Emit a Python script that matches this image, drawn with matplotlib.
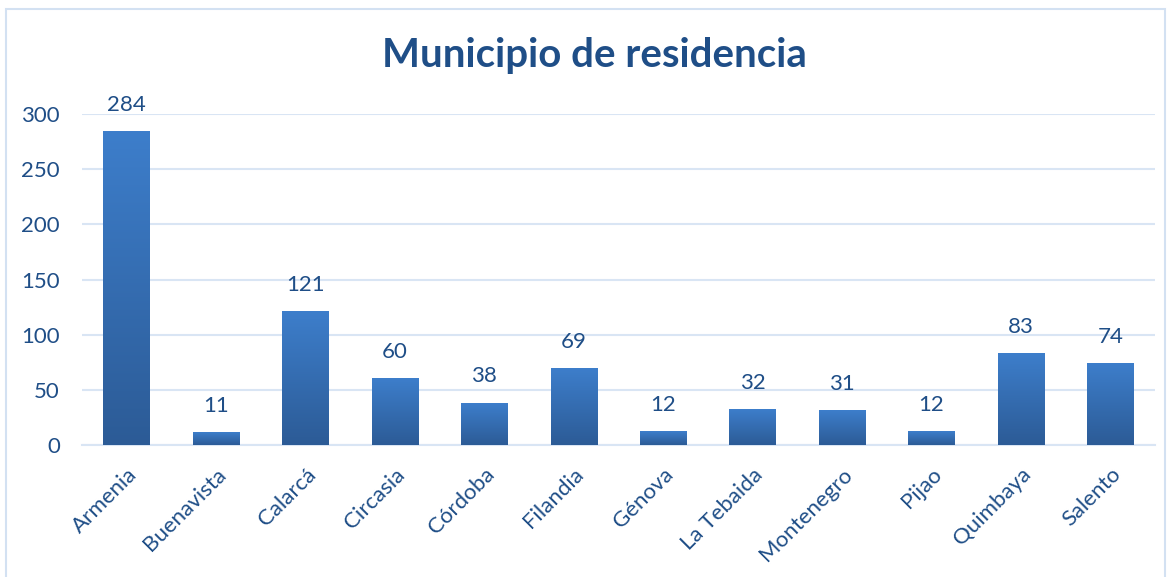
import numpy as np
import matplotlib
matplotlib.use("Agg")
import matplotlib.pyplot as plt
from matplotlib.colors import LinearSegmentedColormap
from matplotlib.patches import Rectangle

# data
municipios = ["Armenia", "Buenavista", "Calarcá", "Circasia", "Córdoba", "Filandia",
              "Génova", "La Tebaida", "Montenegro", "Pijao", "Quimbaya", "Salento"]
personas = [284, 11, 121, 60, 38, 69, 12, 32, 31, 12, 83, 74]
yticks = [0, 50, 100, 150, 200, 250, 300]

text_color = "#1F4E87"
grid_color = "#D9E5F4"
plt.rcParams['font.family'] = ['Lato', 'DejaVu Sans']

fig = plt.figure(figsize=(11.72, 5.77), dpi=100)
ax = fig.add_axes([82 / 1172, 1 - 445 / 577, 1073 / 1172, 331 / 577])

# gradient for each bar (light at top, dark at bottom)
cmap = LinearSegmentedColormap.from_list("barra", ["#2C5B96", "#3D7ECB"])
grad = np.linspace(0, 1, 256).reshape(-1, 1)
width = 0.52
x = np.arange(len(municipios))
for xi, v in zip(x, personas):
    ax.imshow(grad, cmap=cmap, origin="lower", aspect="auto",
              extent=[xi - width / 2, xi + width / 2, 0, v], zorder=3)
    ax.annotate(str(v), (xi, v), xytext=(0, 12), textcoords="offset points",
                ha="center", va="bottom", fontsize=16, color=text_color, zorder=4)

ax.set_xlim(-0.5, len(municipios) - 0.5)
ax.set_ylim(0, 300)
ax.set_yticks(yticks)
ax.set_yticklabels([str(t) for t in yticks], fontsize=16, color=text_color)
ax.set_xticks(x)
ax.set_xticklabels(municipios, rotation=45, ha="right", rotation_mode="anchor",
                   fontsize=16, color=text_color)
ax.tick_params(axis="both", length=0)
ax.tick_params(axis="y", pad=16)
ax.tick_params(axis="x", pad=14)
ax.grid(axis="y", color=grid_color, linewidth=1.5, zorder=0)
ax.set_axisbelow(True)
for s in ["top", "right", "left"]:
    ax.spines[s].set_visible(False)
ax.spines["bottom"].set_color(grid_color)
ax.spines["bottom"].set_linewidth(1.5)

fig.text(594 / 1172, 1 - 55 / 577, "Municipio de residencia", ha="center", va="center",
         fontsize=29, fontweight="bold", color=text_color)

# chart border
fig.patches.append(Rectangle((6 / 1172, -0.01), 1159 / 1172, 1 - 9 / 577 + 0.01,
                             transform=fig.transFigure, fill=False,
                             edgecolor="#D3E1F2", linewidth=1.5))

fig.savefig("out.png", dpi=100)
